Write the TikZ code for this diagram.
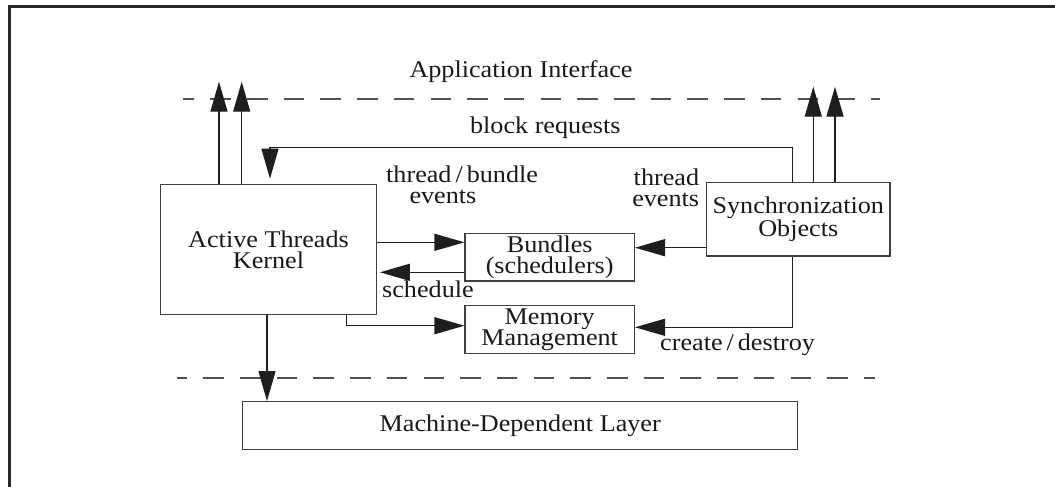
\documentclass[tikz,border=0pt]{standalone}
\usepackage{fontspec}
\setmainfont{Liberation Serif}[FakeStretch=1.09]
\usetikzlibrary{arrows.meta}
\definecolor{boxline}{RGB}{64,64,64}
\definecolor{wire}{RGB}{30,30,30}
\definecolor{dashline}{RGB}{80,80,80}
\definecolor{frameline}{RGB}{40,40,40}
\tikzset{
  every node/.style={font=\fontsize{24}{21}\selectfont, text=black!90},
  blk/.style={draw=boxline, line width=1.3pt, inner sep=0pt, align=center},
  wirearrow/.style={draw=wire, line width=1.3pt, -{Triangle[length=30pt,width=17pt]}},
  layer/.style={draw=dashline, line width=1.6pt, dash pattern=on 20.5pt off 16.2pt},
  lbl/.style={inner sep=0pt, align=left}
}
\begin{document}
\begin{tikzpicture}[x=1pt,y=-1pt]
  \useasboundingbox (0,0) rectangle (1055,487);
  % page frame (top and left edges only)
  \draw[frameline, line width=2.2pt] (9.5,487) -- (9.5,6.5) -- (1055,6.5);

  % layer boundaries
  \draw[layer, dash phase=9.4pt] (183,99) -- (880,99);
  \draw[layer, dash phase=10.7pt] (177.3,378) -- (875,378);
  \node[inner sep=0pt, anchor=base] (api) at (521,77.3) {Application Interface};

  % blocks
  \node[blk, minimum width=215.6pt, minimum height=130.4pt] (atk) at (268.5,249.5) {Active Threads\\Kernel};
  \node[blk, minimum width=169.3pt, minimum height=47.3pt] (bun) at (549.7,257.3) {Bundles\\(schedulers)};
  \node[blk, minimum width=183.3pt, minimum height=73.3pt] (syn) at (798.3,219.3) {Synchronization\\Objects};
  \node[blk, minimum width=169.3pt, minimum height=48pt] (mem) at (549.7,329.7) {Memory\\Management};
  \node[blk, minimum width=555pt, minimum height=48pt] (mdl) at (520.2,425.7) {Machine-Dependent Layer};

  % exits through the application interface
  \coordinate (upA) at (219,81.7);
  \coordinate (upB) at (241.7,81.7);
  \coordinate (upC) at (813.3,86.7);
  \coordinate (upD) at (835,86.7);
  \draw[wirearrow] (atk.north -| upA) -- (upA);
  \draw[wirearrow] (atk.north -| upB) -- (upB);
  \draw[wirearrow] (syn.north -| upC) -- (upC);
  \draw[wirearrow] (syn.north -| upD) -- (upD);

  % block requests
  \coordinate (brR) at (792.3,147.7);
  \coordinate (brL) at (270,147.7);
  \draw[wirearrow, shorten >=5pt] (syn.north -| brR) -- (brR) -- (brL) -- (atk.north -| brL);
  \node[inner sep=0pt, anchor=base] (brlab) at (545.3,133) {block requests};

  % kernel <-> bundles
  \coordinate (tbe) at (0,242.3);
  \coordinate (sch) at (0,272.3);
  \draw[wirearrow] (atk.east |- tbe) -- (bun.west |- tbe);
  \draw[wirearrow, shorten >=3pt] (bun.west |- sch) -- (atk.east |- sch);
  \node[lbl, anchor=base west] (tbelab) at (386,203) {thread\,/\,bundle\\\hspace*{23.3pt}events};
  \node[lbl, anchor=base west] (schlab) at (382,297.7) {schedule};

  % synchronization objects -> bundles
  \coordinate (tev) at (0,247.7);
  \draw[wirearrow] (syn.west |- tev) -- (bun.east |- tev);
  \node[inner sep=0pt, align=right, anchor=base east] (tevlab) at (699.3,206.7) {thread\\events};

  % memory management
  \coordinate (kmA) at (346.7,325.7);
  \draw[wirearrow] (atk.south -| kmA) -- (kmA) -- (mem.west |- kmA);
  \coordinate (cdA) at (792.3,327.3);
  \draw[wirearrow] (syn.south -| cdA) -- (cdA) -- (mem.east |- cdA);
  \node[lbl, anchor=base west] (cdlab) at (660,350) {create\,/\,destroy};

  % kernel -> machine-dependent layer
  \coordinate (kd) at (267,0);
  \draw[wirearrow] (atk.south -| kd) -- (mdl.north -| kd);
\end{tikzpicture}
\end{document}
